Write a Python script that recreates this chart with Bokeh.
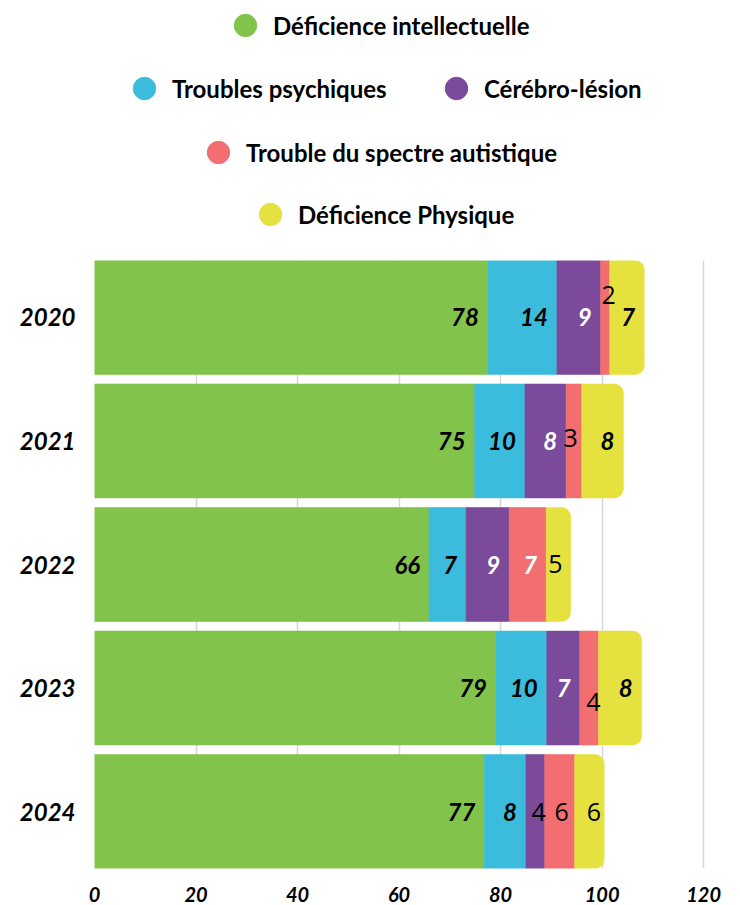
import numpy as np
from bokeh.plotting import figure
from bokeh.models import ColumnDataSource, Range1d, FixedTicker, Legend, LegendItem
from bokeh.layouts import column
from bokeh.embed import file_html
from bokeh.resources import INLINE
from bokeh.core.properties import value

# ---------------- data ----------------
years = [2020, 2021, 2022, 2023, 2024]
year_labels = ["2020", "2021", "2022", "2023", "2024"]
series = ["Déficience intellectuelle", "Troubles psychiques", "Cérébro-lésion",
          "Trouble du spectre autistique", "Déficience Physique"]

def_intellectuelle = [77.5, 74.9, 65.9, 79.1, 76.8]
troubles_psychiques = [13.6, 9.9, 7.3, 10.0, 8.2]
cerebro_lesion = [8.6, 8.1, 8.5, 6.5, 3.7]
spectre_autistique = [1.8, 3.1, 7.3, 3.7, 5.9]
def_physique = [6.8, 8.2, 4.8, 8.5, 5.8]

lbl_intellectuelle = ["78", "75", "66", "79", "77"]
lbl_psychiques = ["14", "10", "7", "10", "8"]
lbl_cerebro = ["9", "8", "9", "7", "4"]
lbl_autistique = ["2", "3", "7", "4", "6"]
lbl_physique = ["7", "8", "5", "8", "6"]

x_ticks = [0, 20, 40, 60, 80, 100, 120]

# ---------------- styles ----------------
colors = ["#82C34B", "#3CBCDC", "#7B4A9A", "#F26E70", "#E5E23F"]
# per label: (kind, colour, dx, dy)   b = bold italic, p = plain
B = ("b", "black", -9, 0)
W = ("b", "white", -9, 0)
label_styles = [
    [B, B, B, B, B],
    [B, B, B, B, B],
    [W, W, W, W, ("p", "black", 1, 0)],
    [("p", "black", 6, -22), ("p", "black", -4, -3), W, ("p", "black", 2, 14), ("p", "black", -6, 0)],
    [B, B, ("p", "black", -8, -1), B, ("p", "black", -3, 0)],
]

vals = [def_intellectuelle, troubles_psychiques, cerebro_lesion, spectre_autistique, def_physique]
lbls = [lbl_intellectuelle, lbl_psychiques, lbl_cerebro, lbl_autistique, lbl_physique]

FONT = "Lato"

# ---------------- legend figure ----------------
lf = figure(width=740, height=260, output_backend="svg", toolbar_location=None,
            x_axis_type=None, y_axis_type=None, min_border=0, title_location=None,
            outline_line_color=None, x_range=Range1d(0, 1), y_range=Range1d(0, 1))
lf.grid.visible = False
dummy = []
for c in colors:
    r = lf.scatter(x=[float("nan")], y=[float("nan")], marker="circle", size=0,
                   fill_color=c, line_color=c)
    dummy.append(r)

rows = [([0], (123, 207)), ([1, 2], (22, 144)), ([3], (96, 80)), ([4], (148, 18))]
for idxs, loc in rows:
    leg = Legend(items=[LegendItem(label=series[i], renderers=[dummy[i]]) for i in idxs],
                 location=loc, orientation="horizontal",
                 glyph_width=56, glyph_height=56, label_standoff=0,
                 label_width=230 if len(idxs) > 1 else 20, spacing=26,
                 padding=0, margin=0, border_line_color=None, background_fill_alpha=0,
                 label_text_font=FONT, label_text_font_style="bold",
                 label_text_font_size="24px", label_text_color="black")
    lf.add_layout(leg, "center")

# ---------------- main figure ----------------
p = figure(width=740, height=645, output_backend="svg", toolbar_location=None,
           x_range=Range1d(0, 124.9), y_range=Range1d(2024.461, 2019.539),
           min_border_left=94, min_border_right=12, min_border_top=0, min_border_bottom=37,
           title_location=None, outline_line_color=None)

left = np.zeros(len(years))
bold = dict(x=[], y=[], text=[], color=[], dx=[], dy=[])
plain = dict(x=[], y=[], text=[], color=[], dx=[], dy=[])
for si, (v, lb) in enumerate(zip(vals, lbls)):
    right = left + np.array(v)
    src = ColumnDataSource(dict(y=years, left=left, right=right))
    r = p.hbar(y="y", left="left", right="right", height=0.922, source=src,
               fill_color=colors[si], line_color=colors[si], line_width=0.6)
    if si == len(vals) - 1:
        r.glyph.border_radius = (0, 9, 9, 0)
    for yi, yr in enumerate(years):
        kind, col, dx, dy = label_styles[si][yi]
        d = bold if kind == "b" else plain
        d["x"].append(right[yi]); d["y"].append(yr); d["text"].append(lb[yi])
        d["color"].append(col); d["dx"].append(dx); d["dy"].append(dy)
    left = right

p.text(x="x", y="y", text="text", source=ColumnDataSource(bold), text_color="color",
       x_offset="dx", y_offset="dy", text_align="right", text_baseline="middle",
       text_font=value(FONT), text_font_style="bold italic", text_font_size="24px")
p.text(x="x", y="y", text="text", source=ColumnDataSource(plain), text_color="color",
       x_offset="dx", y_offset="dy", text_align="right", text_baseline="middle",
       text_font=value("Open Sans"), text_font_style="normal", text_font_size="25px")

p.ygrid.visible = False
p.xgrid.ticker = FixedTicker(ticks=x_ticks)
p.xgrid.grid_line_color = "#d6d6d6"
p.xgrid.grid_line_width = 1.5

p.xaxis.ticker = FixedTicker(ticks=x_ticks)
p.yaxis.ticker = FixedTicker(ticks=years)
p.yaxis.major_label_overrides = {y: s for y, s in zip(years, year_labels)}
for ax in (p.xaxis, p.yaxis):
    ax.axis_line_color = None
    ax.major_tick_line_color = None
    ax.minor_tick_line_color = None
    ax.major_label_text_font = FONT
    ax.major_label_text_font_style = "bold italic"
    ax.major_label_text_color = "black"
p.xaxis.major_label_text_font_size = "20px"
p.xaxis.major_label_standoff = 12
p.yaxis.major_label_text_font_size = "24px"
p.yaxis.major_label_standoff = 13

layout = column(lf, p, spacing=0)
open("out.html", "w").write(file_html(layout, INLINE))
